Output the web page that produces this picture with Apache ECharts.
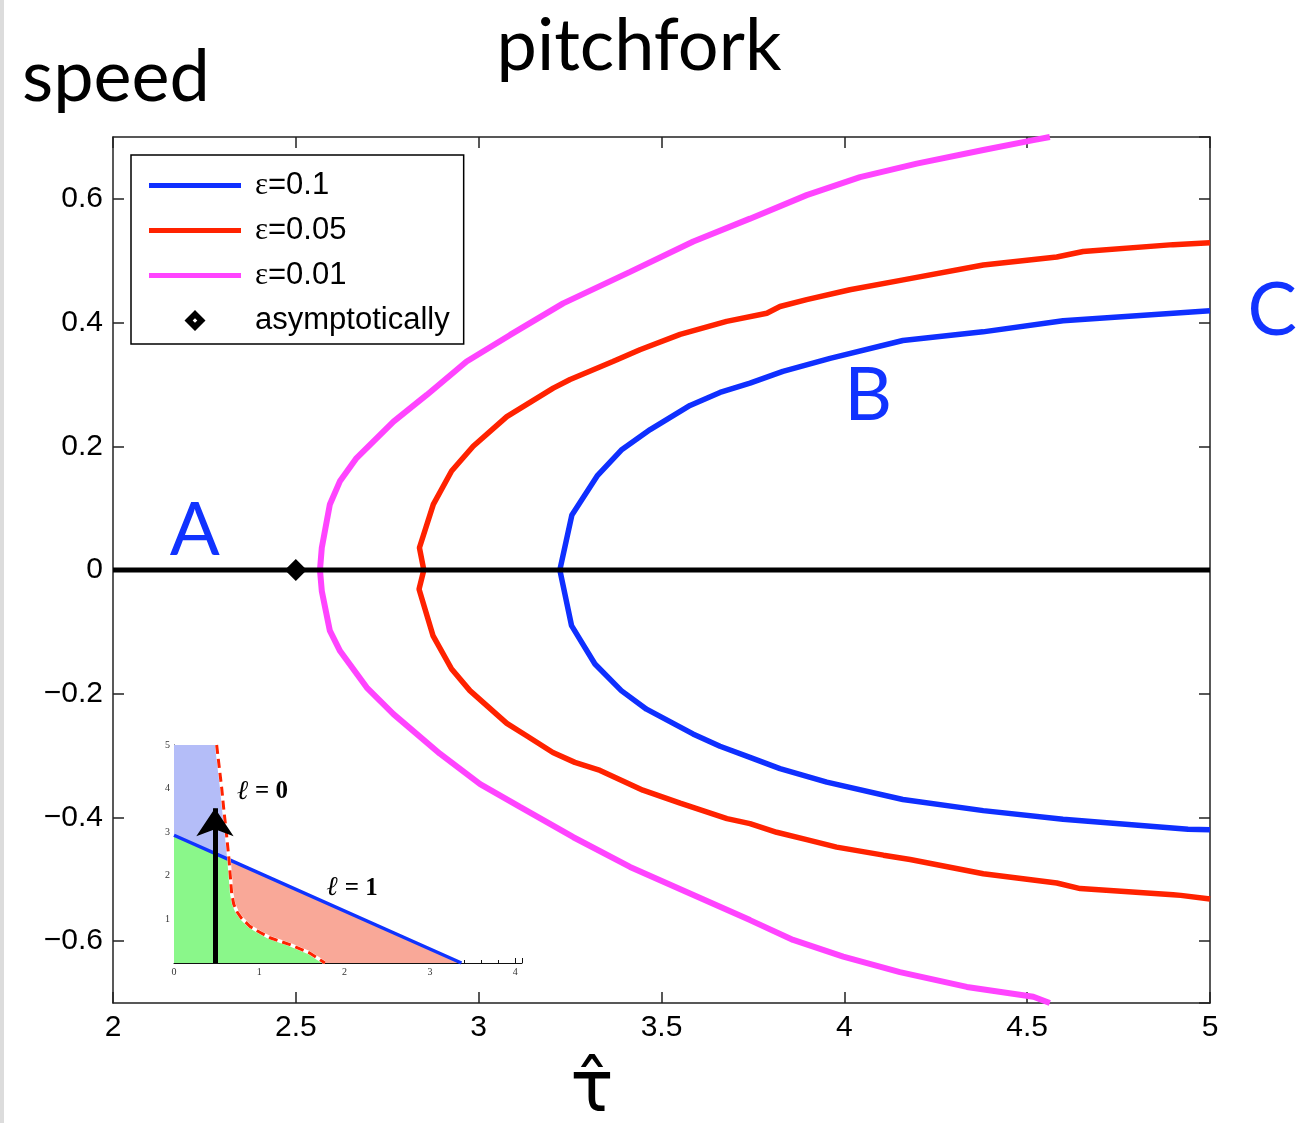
<!DOCTYPE html>
<html>
<head>
<meta charset="utf-8">
<title>pitchfork</title>
<script src="https://cdn.jsdelivr.net/npm/echarts@6/dist/echarts.min.js"></script>
<style>
  html, body { margin: 0; padding: 0; background: #fff; }
  #chart { width: 1301px; height: 1123px; }
</style>
</head>
<body>
<div id="chart"></div>
<script>
// branches of the pitchfork, [tau-hat, speed], lower end -> vertex -> upper end
const blueCurve = [ // eps = 0.1
  [5.0, -0.420], [4.94, -0.419], [4.598, -0.403], [4.38, -0.389], [4.16, -0.371],
  [3.952, -0.343], [3.824, -0.321], [3.742, -0.303], [3.66, -0.285], [3.586, -0.265],
  [3.459, -0.225], [3.39, -0.195], [3.318, -0.152], [3.254, -0.090], [3.222, 0],
  [3.255, 0.089], [3.324, 0.152], [3.392, 0.195], [3.469, 0.227], [3.578, 0.266],
  [3.66, 0.287], [3.742, 0.302], [3.832, 0.321], [3.961, 0.342], [4.16, 0.371],
  [4.379, 0.385], [4.598, 0.403], [5.0, 0.419]
];
const redCurve = [ // eps = 0.05
  [5.0, -0.532], [4.92, -0.526], [4.899, -0.525], [4.645, -0.515], [4.581, -0.506],
  [4.38, -0.491], [4.18, -0.468], [4.107, -0.461], [3.979, -0.448], [3.897, -0.436],
  [3.815, -0.424], [3.742, -0.410], [3.679, -0.402], [3.551, -0.377], [3.449, -0.356],
  [3.332, -0.324], [3.263, -0.311], [3.203, -0.295], [3.131, -0.268], [3.077, -0.248],
  [2.976, -0.195], [2.926, -0.160], [2.875, -0.106], [2.837, -0.031], [2.850, 0],
  [2.838, 0.036], [2.876, 0.106], [2.926, 0.160], [2.985, 0.200], [3.077, 0.248],
  [3.204, 0.294], [3.250, 0.308], [3.367, 0.337], [3.441, 0.356], [3.551, 0.381],
  [3.678, 0.402], [3.788, 0.415], [3.824, 0.426], [3.897, 0.437], [4.015, 0.453],
  [4.161, 0.469], [4.380, 0.493], [4.581, 0.506], [4.653, 0.515], [4.899, 0.526],
  [5.0, 0.529]
];
const magentaCurve = [ // eps = 0.01
  [4.562, -0.700], [4.517, -0.690], [4.335, -0.674], [4.152, -0.650], [3.997, -0.625],
  [3.860, -0.598], [3.742, -0.566], [3.578, -0.523], [3.414, -0.480], [3.259, -0.432],
  [3.113, -0.383], [3.004, -0.346], [2.894, -0.297], [2.767, -0.233], [2.694, -0.190],
  [2.621, -0.131], [2.593, -0.098], [2.571, -0.034], [2.566, 0],
  [2.571, 0.036], [2.593, 0.106], [2.621, 0.144], [2.666, 0.181], [2.767, 0.240],
  [2.858, 0.283], [2.967, 0.337], [3.086, 0.380], [3.231, 0.431], [3.414, 0.482],
  [3.587, 0.531], [3.742, 0.568], [3.897, 0.606], [4.043, 0.635], [4.198, 0.657],
  [4.380, 0.679], [4.517, 0.695], [4.562, 0.700]
];
const zeroLine = [[2, 0], [5, 0]];
const asymptote = [[2.5, 0]];
const pointLabels = [['A', 2.224, 0.063], ['B', 4.065, 0.281], ['C', 5.17, 0.418]];

// inset: phase diagram
const insetRed = [
  [0.50, 5.0], [0.53, 4.5], [0.56, 4.0], [0.585, 3.5], [0.61, 3.06], [0.645, 2.37],
  [0.676, 1.6], [0.70, 1.35], [0.74, 1.17], [0.79, 1.03], [0.89, 0.84], [1.0, 0.71],
  [1.125, 0.58], [1.36, 0.42], [1.59, 0.23], [1.77, 0]
];
const insetBlue = [[0, 2.93], [0.645, 2.37], [3.37, 0]];
const insetArrow = [[0.48, 0], [0.48, 3.55]];
const insetLabels = [['0', 1.04, 3.93], ['1', 2.09, 1.71]]; // value of l

const cross = 5; // index where insetRed meets insetBlue
const blueRegion = [[0, 5]].concat(insetRed.slice(0, cross + 1), [insetBlue[0]]);
const greenRegion = [[0, 0], insetBlue[0]].concat(insetRed.slice(cross));
const salmonRegion = [insetBlue[1], insetBlue[2]].concat(insetRed.slice(cross).reverse());

const BLUE = '#0f2fff';
const RED = '#ff2200';
const MAGENTA = '#ff44ff';
const LINE_ICON = 'path://M0,0H92V5H0Z';
const DIAMOND_ICON = 'path://M9,0L18,9L9,18L0,9Z M9,7L7,9L9,11L11,9Z';

function polygon(points, color) {
  return {
    type: 'custom',
    xAxisIndex: 2,
    yAxisIndex: 2,
    silent: true,
    z: 1,
    data: [points[0]],
    renderItem: function (params, api) {
      return {
        type: 'polygon',
        shape: { points: points.map(p => api.coord(p)) },
        style: { fill: color }
      };
    }
  };
}

function mainX(pos, showLabel) {
  return {
    type: 'value', gridIndex: 0, position: pos, min: 2, max: 5, interval: 0.5,
    axisLine: { onZero: false, lineStyle: { color: '#222', width: 1.5 } },
    axisTick: { inside: true, length: 11, lineStyle: { color: '#222', width: 1.5 } },
    axisLabel: { show: showLabel, fontFamily: 'Liberation Sans', fontSize: 30, color: '#000', margin: 10 },
    splitLine: { show: false }
  };
}
function mainY(pos, showLabel) {
  return {
    type: 'value', gridIndex: 0, position: pos, min: -0.7, max: 0.7, splitNumber: 7,
    axisLine: { onZero: false, lineStyle: { color: '#222', width: 1.5 } },
    axisTick: { inside: true, length: 11, lineStyle: { color: '#222', width: 1.5 } },
    axisLabel: {
      show: showLabel, showMinLabel: false, showMaxLabel: false,
      fontFamily: 'Liberation Sans', fontSize: 30, color: '#000', margin: 10,
      formatter: v => v === 0 ? '0' : (v < 0 ? '\u2212' : '') + Math.abs(v).toFixed(1)
    },
    splitLine: { show: false }
  };
}
const insetAxisCommon = {
  axisLine: { onZero: false, lineStyle: { color: '#111', width: 1 } },
  axisTick: { inside: true, length: 5, lineStyle: { color: '#111' } },
  minorTick: { show: true, splitNumber: 5, length: 3, lineStyle: { color: '#111' } },
  splitLine: { show: false }
};

const chart = echarts.init(document.getElementById('chart'));
chart.setOption({
  animation: false,
  backgroundColor: '#fff',
  grid: [
    { left: 113, top: 137, width: 1097, height: 866 },
    { left: 174, top: 745, width: 348, height: 218 }
  ],
  xAxis: [
    mainX('bottom', true),
    mainX('top', false),
    Object.assign({
      type: 'value', gridIndex: 1, min: 0, max: 4.08, interval: 1,
      axisLabel: { showMaxLabel: false, fontFamily: 'Liberation Serif', fontSize: 10, color: '#333', margin: 4 }
    }, insetAxisCommon)
  ],
  yAxis: [
    mainY('left', true),
    mainY('right', false),
    Object.assign({
      type: 'value', gridIndex: 1, min: 0, max: 5, interval: 1,
      axisLabel: { showMinLabel: false, fontFamily: 'Liberation Serif', fontSize: 10, color: '#333', margin: 4 }
    }, insetAxisCommon)
  ],
  legend: {
    orient: 'vertical',
    left: 131,
    top: 155,
    data: [
      { name: 'ε=0.1', icon: LINE_ICON },
      { name: 'ε=0.05', icon: LINE_ICON },
      { name: 'ε=0.01', icon: LINE_ICON },
      { name: 'asymptotically', icon: DIAMOND_ICON }
    ],
    symbolKeepAspect: true,
    itemWidth: 92,
    itemHeight: 21,
    itemGap: 14,
    padding: [15, 14, 8, 18],
    borderColor: '#000',
    borderWidth: 1.5,
    backgroundColor: '#fff',
    selectedMode: false,
    formatter: name => name.charAt(0) === 'ε' ? '{e|ε}{t|' + name.slice(1) + '}' : '{t|' + name + '}',
    textStyle: {
      color: '#000',
      padding: [0, 0, 0, 9],
      rich: {
        e: { fontFamily: 'Liberation Serif', fontSize: 31, lineHeight: 30, color: '#000' },
        t: { fontFamily: 'Liberation Sans', fontSize: 31, lineHeight: 30, color: '#000' }
      }
    }
  },
  graphic: [
    { type: 'rect', left: 0, top: 0, shape: { width: 4, height: 1123 }, style: { fill: '#dcdcdc' } },
    { type: 'text', x: 639, y: 47, style: { text: 'pitchfork', font: '72px Lato', fill: '#000', align: 'center', verticalAlign: 'middle' } },
    { type: 'text', x: 22, y: 78, style: { text: 'speed', font: '72px Lato', fill: '#000', align: 'left', verticalAlign: 'middle' } },
    { type: 'text', x: 592, y: 1092, style: { text: 'τ\u0302', font: '72px "DejaVu Sans"', fill: '#000', align: 'center', verticalAlign: 'middle' } }
  ],
  series: [
    { name: 'ε=0.1', type: 'line', data: blueCurve, symbol: 'none', z: 2, lineStyle: { color: BLUE, width: 5.5 }, itemStyle: { color: BLUE } },
    { name: 'ε=0.05', type: 'line', data: redCurve, symbol: 'none', z: 2, lineStyle: { color: RED, width: 5.5 }, itemStyle: { color: RED } },
    { name: 'ε=0.01', type: 'line', data: magentaCurve, symbol: 'none', z: 2, lineStyle: { color: MAGENTA, width: 6 }, itemStyle: { color: MAGENTA } },
    { type: 'line', data: zeroLine, symbol: 'none', z: 3, lineStyle: { color: '#000', width: 5 } },
    { name: 'asymptotically', type: 'scatter', data: asymptote, symbol: 'diamond', symbolSize: 22, z: 4, itemStyle: { color: '#000', opacity: 1 } },
    {
      type: 'scatter', symbolSize: 0, clip: false, z: 5, silent: true,
      itemStyle: { opacity: 1 },
      data: pointLabels.map(d => ({ name: d[0], value: [d[1], d[2]] })),
      label: { show: true, position: 'inside', formatter: '{b}', fontFamily: 'Lato', fontSize: 74, color: '#1133ff', opacity: 1 }
    },
    // inset
    polygon(blueRegion, '#b4bdf8'),
    polygon(greenRegion, '#8af78a'),
    polygon(salmonRegion, '#f9a898'),
    { type: 'line', xAxisIndex: 2, yAxisIndex: 2, data: insetBlue, symbol: 'none', z: 2, lineStyle: { color: '#1033ff', width: 3.5 } },
    { type: 'line', xAxisIndex: 2, yAxisIndex: 2, data: insetRed, symbol: 'none', z: 2, lineStyle: { color: '#fff', width: 3.5 } },
    { type: 'line', xAxisIndex: 2, yAxisIndex: 2, data: insetRed, symbol: 'none', z: 3, lineStyle: { color: RED, width: 3, type: [9, 5] } },
    {
      type: 'lines', coordinateSystem: 'cartesian2d', xAxisIndex: 2, yAxisIndex: 2, z: 4,
      symbol: ['none', 'arrow'], symbolSize: 28,
      lineStyle: { color: '#000', width: 5, opacity: 1, curveness: 0 },
      data: [{ coords: insetArrow }]
    },
    {
      type: 'scatter', xAxisIndex: 2, yAxisIndex: 2, symbolSize: 0, z: 5, silent: true,
      itemStyle: { opacity: 1 },
      data: insetLabels.map(d => ({ name: d[0], value: [d[1], d[2]] })),
      label: {
        show: true, position: 'inside', opacity: 1,
        formatter: p => '{i|ℓ}{n| = ' + p.name + '}',
        rich: {
          i: { fontFamily: 'Liberation Serif', fontStyle: 'italic', fontWeight: 'bold', fontSize: 27, color: '#000' },
          n: { fontFamily: 'Liberation Serif', fontWeight: 'bold', fontSize: 25, color: '#000' }
        }
      }
    }
  ]
});
</script>
</body>
</html>
